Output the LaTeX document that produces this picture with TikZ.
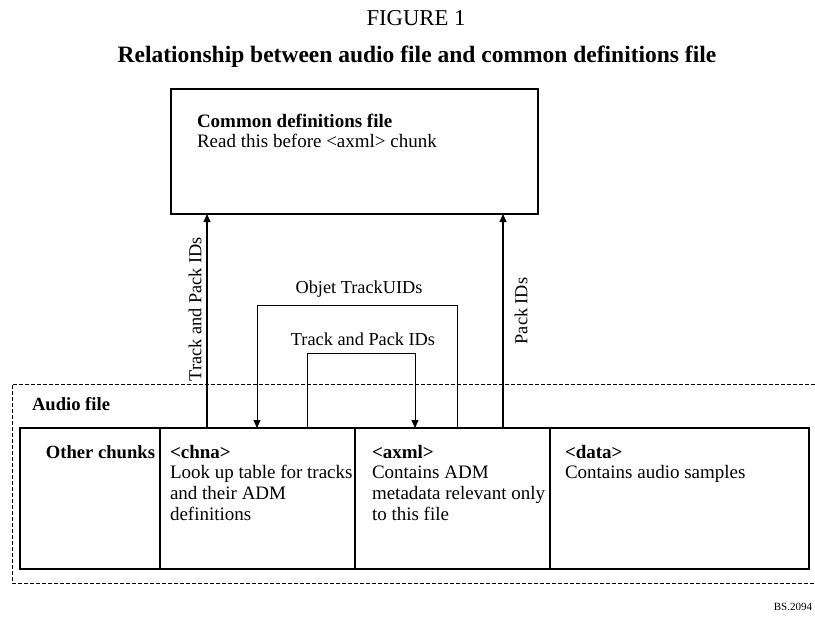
\documentclass[tikz,border=0pt]{standalone}
\usepackage{fontspec}
\setmainfont{Liberation Serif}
\usetikzlibrary{arrows.meta}
\begin{document}
\begin{tikzpicture}[x=1pt,y=-1pt,
  every node/.style={inner sep=0pt,outer sep=0pt},
  body/.style={font=\fontsize{19}{20.7}\selectfont},
  lbl/.style={font=\fontsize{18.3}{20}\selectfont},
  txt/.style={body, align=left, anchor=base west},
  box/.style={draw, line width=1.2pt},
  conn/.style={line width=1.2pt},
  arr/.style={conn, -{Triangle[length=8pt,width=7pt]}},
  thin/.style={line width=0.9pt}]
\useasboundingbox (0,0) rectangle (815,621);
\node[anchor=base, font=\fontsize{22.7}{24}\selectfont] (fig) at (416,26) {FIGURE 1};
\node[anchor=base, font=\fontsize{23.5}{26}\selectfont\bfseries] (title) at (417,63) {Relationship between audio file and common definitions file};
% common definitions file
\draw[box] (171,89) rectangle (538,214);
\coordinate (cdL) at (207,214);
\coordinate (cdR) at (503,214);
% base anchor = baseline of last line
\node[txt] (cdt) at (197,147.7) {\textbf{Common definitions file}\\Read this before <axml> chunk};
% dashed audio file box
\draw[line width=0.9pt, dash pattern=on 4pt off 2pt] (815,384) -- (12,384) -- (12,583) -- (815,583);
\node[txt, font=\fontsize{18.6}{20}\selectfont\bfseries] (af) at (32,410) {Audio file};
% chunks
\draw[box] (20,428) rectangle (809,569);
\draw[box] (160,428) -- (160,569);
\draw[box] (355,428) -- (355,569);
\draw[box] (550,428) -- (550,569);
\node[font=\fontsize{18.6}{20}\selectfont\bfseries, anchor=base east] (oc) at (155,458) {Other chunks};
\node[txt] (chna) at (170,520.1) {\textbf{<chna>}\\Look up table for tracks\\and their ADM\\definitions};
\node[txt] (axml) at (372,520.1) {\textbf{<axml>}\\Contains ADM\\metadata relevant only\\to this file};
\node[txt] (data) at (565,478.7) {\textbf{<data>}\\Contains audio samples};
% connectors
\coordinate (c1) at (207,428);
\coordinate (c2) at (257,428);
\coordinate (c3) at (307,428);
\coordinate (c4) at (415,428);
\coordinate (c5) at (457,428);
\coordinate (c6) at (503,428);
\draw[arr] (c1) -- (cdL);
\draw[arr] (c6) -- (cdR);
\draw[arr, thin] (c5) -- (457,305) -- (257,305) -- (c2);
\draw[arr, thin] (c3) -- (307,353) -- (415,353) -- (c4);
\node[lbl, rotate=90] (l1) at (195,309) {Track and Pack IDs};
\node[lbl, rotate=90] (l2) at (521,311) {Pack IDs};
\node[lbl] (l3) at (359,289) {Objet TrackUIDs};
\node[lbl] (l4) at (363,339) {Track and Pack IDs};
\node[anchor=base, font=\fontsize{11}{12}\selectfont] (bs) at (793,610) {BS.2094};
\end{tikzpicture}
\end{document}
